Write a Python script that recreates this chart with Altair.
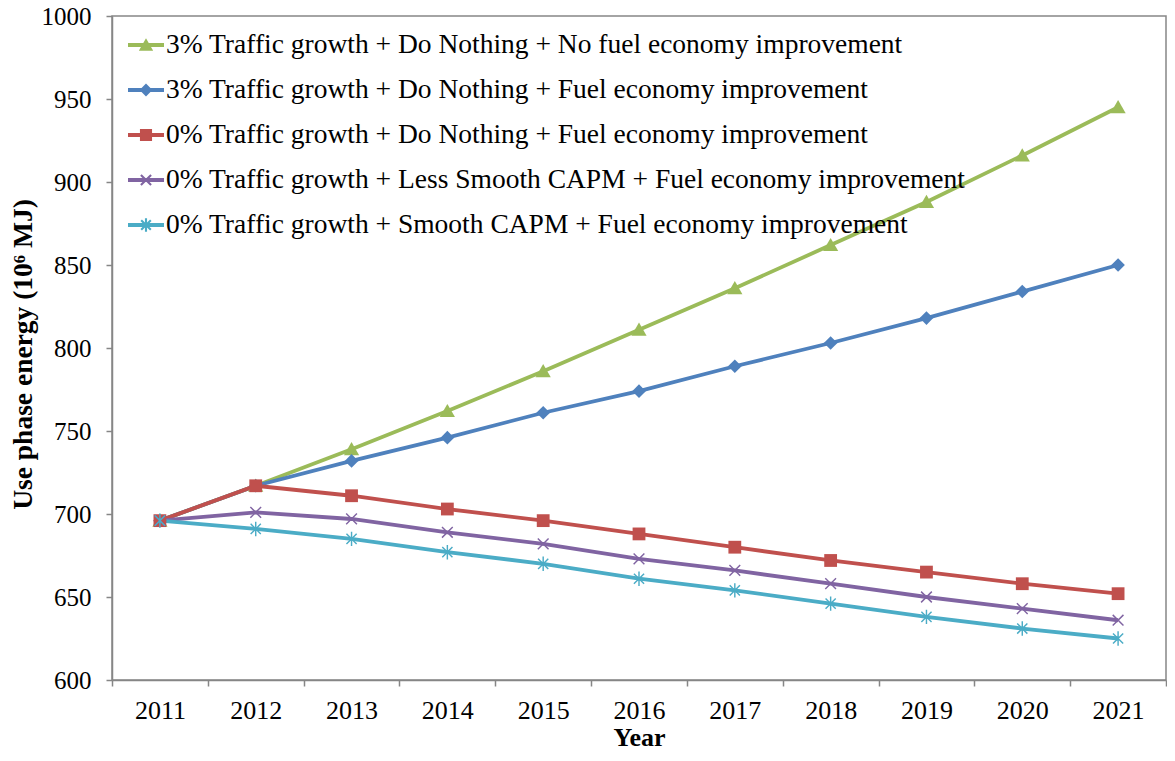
import math
import altair as alt
import pandas as pd

years = [str(y) for y in range(2011, 2022)]
series = [
    "3% Traffic growth + Do Nothing + No fuel economy improvement",
    "3% Traffic growth + Do Nothing + Fuel economy improvement",
    "0% Traffic growth + Do Nothing + Fuel economy improvement",
    "0% Traffic growth + Less Smooth CAPM + Fuel economy improvement",
    "0% Traffic growth + Smooth CAPM + Fuel economy improvement",
]
green = [696, 717, 739, 762, 786, 811, 836, 862, 888, 916, 945]
blue = [696, 717, 732, 746, 761, 774, 789, 803, 818, 834, 850]
red = [696, 717, 711, 703, 696, 688, 680, 672, 665, 658, 652]
purple = [696, 701, 697, 689, 682, 673, 666, 658, 650, 643, 636]
cyan = [696, 691, 685, 677, 670, 661, 654, 646, 638, 631, 625]
colors = ["#9BBB59", "#4F81BD", "#C0504D", "#8064A2", "#4BACC6"]

values = [green, blue, red, purple, cyan]
rows = []
for s, vals in zip(series, values):
    for yr, v in zip(years, vals):
        rows.append({"year": yr, "value": v, "series": s})
df = pd.DataFrame(rows)


def bar(angle, L, t):
    a = math.radians(angle)
    ux, uy = math.cos(a), math.sin(a)
    nx, ny = -uy, ux
    return [(ux * L + nx * t, uy * L + ny * t), (-ux * L + nx * t, -uy * L + ny * t),
            (-ux * L - nx * t, -uy * L - ny * t), (ux * L - nx * t, uy * L - ny * t)]


def path(polys, s=1.0):
    out = []
    for p in polys:
        out.append("M" + " L".join(f"{x * s:.3f},{y * s:.3f}" for x, y in p) + " Z")
    return " ".join(out)


tri = [[(0, -0.9), (0.95, 0.75), (-0.95, 0.75)]]
dia = [[(0, -0.85), (0.85, 0), (0, 0.85), (-0.85, 0)]]
sq = [[(-0.8, -0.8), (0.8, -0.8), (0.8, 0.8), (-0.8, 0.8)]]
xm = [bar(45, 0.95, 0.09), bar(135, 0.95, 0.09)]
ast = [bar(90, 0.9, 0.09), bar(45, 0.9, 0.09), bar(135, 0.9, 0.09)]
thick_x = [bar(45, 0.95, 0.14), bar(135, 0.95, 0.14)]
thick_ast = [bar(90, 0.9, 0.14), bar(45, 0.9, 0.14), bar(135, 0.9, 0.14)]
markers = [tri, dia, sq, xm, ast]
legend_markers = [tri, dia, sq, thick_x, thick_ast]

plot_paths = [path(m) for m in markers]
legend_paths = [path([bar(0, 1, 0.105)]) + " " + path(m, 0.42) for m in legend_markers]

SERIF = "Liberation Serif"

X = alt.X("year:O", scale=alt.Scale(type="band", paddingInner=0, paddingOuter=0),
          axis=alt.Axis(title="Year", tickBand="extent", labelAngle=0, tickSize=6,
                        labelPadding=11, titlePadding=1, grid=False))
Y = alt.Y("value:Q", scale=alt.Scale(domain=[600, 1000], nice=False, zero=False),
          axis=alt.Axis(title="Use phase energy (10⁶ MJ)", values=list(range(600, 1001, 50)),
                        format="d", grid=False, tickSize=6, labelPadding=15, titlePadding=4,
                        labelFontSize=25, titleFontSize=27.5, titleY=338))

layers = []
for s, col in zip(series, colors):
    base = alt.Chart(df).transform_filter(alt.datum.series == s)
    layers.append(base.mark_line(color=col, strokeWidth=3.8).encode(x=X, y=Y))
for s, col, pth in zip(series, colors, plot_paths):
    base = alt.Chart(df).transform_filter(alt.datum.series == s)
    layers.append(base.mark_point(shape=pth, filled=True, color=col, size=256,
                                  opacity=1, strokeWidth=0).encode(x=X, y=Y))

leg = alt.Legend(orient="none", legendX=16, legendY=11, title=None, symbolSize=1296,
                 labelFont=SERIF, labelFontSize=27.5, labelColor="black",
                 labelOffset=2, rowPadding=13, padding=0, symbolStrokeWidth=0,
                 labelLimit=0, symbolOpacity=1)
legend_layer = alt.Chart(df).transform_filter("false").mark_point(
    filled=True, opacity=1, strokeWidth=0).encode(
    x=X, y=Y,
    color=alt.Color("series:N", scale=alt.Scale(domain=series, range=colors), legend=leg),
    shape=alt.Shape("series:N", scale=alt.Scale(domain=series, range=legend_paths), legend=leg),
)
layers.append(legend_layer)

chart = alt.layer(*layers).properties(
    width=1054, height=664,
    autosize=alt.AutoSizeParams(type="none"),
    padding={"left": 104, "top": 8, "right": 1, "bottom": 73},
).configure(font=SERIF).configure_view(stroke="#868686", strokeWidth=1.5).configure_axis(
    domainColor="#868686", tickColor="#868686", domainWidth=1.5, tickWidth=1.5,
    labelFont=SERIF, labelFontSize=26, labelColor="black",
    titleFont=SERIF, titleFontWeight="bold", titleFontSize=26, titleColor="black",
).configure_legend(
    labelFont=SERIF, labelFontSize=27.5, labelColor="black",
    symbolSize=1296, rowPadding=13, labelOffset=2, labelLimit=0,
)

chart.save("out.html", embed_options={"renderer": "svg", "actions": False})
